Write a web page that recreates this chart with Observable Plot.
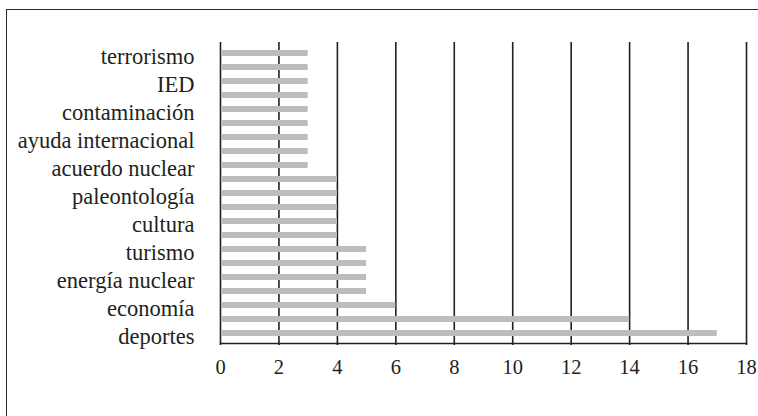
<!DOCTYPE html>
<html>
<head>
<meta charset="utf-8">
<script src="https://cdn.jsdelivr.net/npm/d3@7"></script>
<script src="https://cdn.jsdelivr.net/npm/@observablehq/plot@0.6"></script>
<style>
  html, body { margin: 0; padding: 0; background: #fff; overflow: hidden; width: 758px; height: 416px; }
  #wrap { position: relative; width: 758px; height: 416px; }
  #border { position: absolute; left: 6px; top: 9px; width: 800px; height: 500px; border: 1.5px solid #2a2a2a; box-sizing: border-box; }
  #chart { position: absolute; left: 0; top: 0; }
</style>
</head>
<body>
<div id="wrap"><div id="border"></div><div id="chart"></div></div>
<script>
// Category labels (only every other bar is labelled in the original)
const labels = [
  "terrorismo", "", "IED", "", "contaminación", "", "ayuda internacional", "",
  "acuerdo nuclear", "", "paleontología", "", "cultura", "", "turismo", "",
  "energía nuclear", "", "economía", "", "deportes"
];
const values = [3, 3, 3, 3, 3, 3, 3, 3, 3, 4, 4, 4, 4, 4, 5, 5, 5, 5, 6, 14, 17];
const xTicks = [0, 2, 4, 6, 8, 10, 12, 14, 16, 18];

const data = values.map((v, i) => ({i, v}));
const idx = values.map((_, i) => i);

const chart = Plot.plot({
  width: 758,
  height: 416,
  marginLeft: 220,
  marginRight: 12,
  marginTop: 42,
  marginBottom: 73,
  style: {fontFamily: "'Liberation Serif', serif", fontSize: "21px", color: "#231f20", background: "transparent"},
  x: {domain: [0, 18], ticks: xTicks, label: null},
  y: {domain: idx, paddingInner: 0.6, paddingOuter: 0.36, align: 0.5, label: null},
  marks: [
    Plot.ruleX(xTicks, {stroke: "#231f20", strokeWidth: 1.6}),
    Plot.barX(data, {x: "v", y: "i", fill: "#bcbdbf", insetLeft: 1.5}),
    Plot.frame({anchor: "bottom", stroke: "#231f20", strokeWidth: 1.6}),
    Plot.axisX({ticks: xTicks, tickSize: 2, tickPadding: 14, stroke: "#231f20", strokeWidth: 1.6, fontSize: 20.5, label: null}),
    Plot.axisY({tickSize: 0, tickPadding: 26, tickFormat: i => labels[i], dy: 3.5, fontSize: 22.5, label: null})
  ]
});
document.getElementById("chart").appendChild(chart);
</script>
</body>
</html>
